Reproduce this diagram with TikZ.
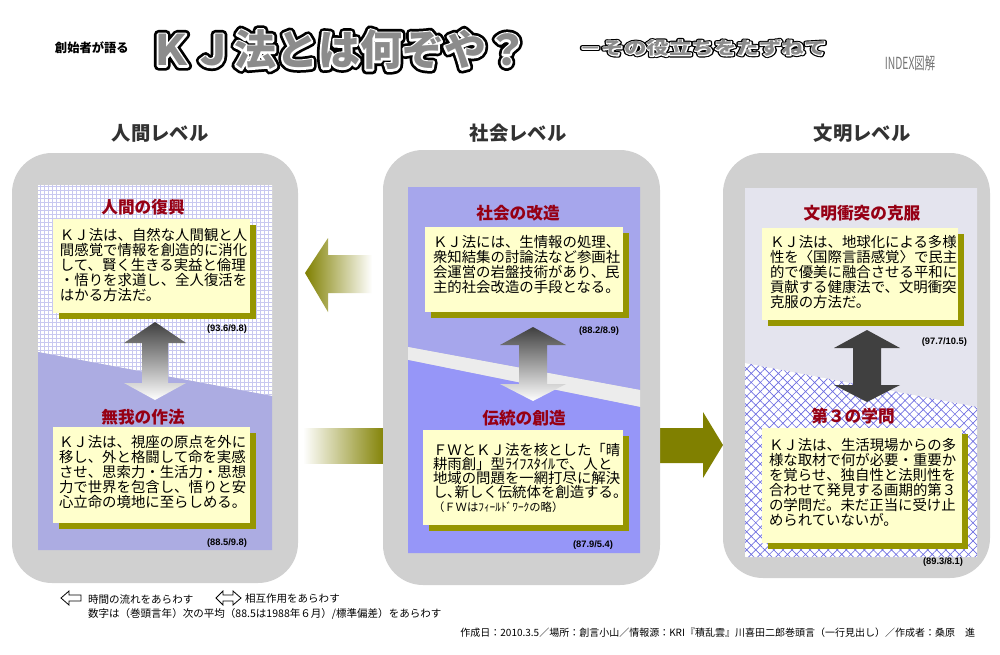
\documentclass[tikz,border=0pt]{standalone}
\usepackage{fontspec}
\setmainfont{Noto Sans CJK JP}
\newfontfamily\lsans{Liberation Sans}
\newfontfamily\outA[FakeBold=22, BoldFeatures={FakeBold=22}]{Noto Sans CJK JP}
\newfontfamily\outB[FakeBold=9, BoldFeatures={FakeBold=9}]{Noto Sans CJK JP}
\usetikzlibrary{patterns.meta,shadows}
\definecolor{panelgray}{RGB}{208,208,208}
\definecolor{lavA}{RGB}{172,172,226}
\definecolor{lavB}{RGB}{166,166,236}
\definecolor{lavC}{RGB}{150,150,248}
\definecolor{gridlav}{RGB}{200,200,240}
\definecolor{boxy}{RGB}{255,255,204}
\definecolor{shad}{RGB}{150,150,0}
\definecolor{oliv}{RGB}{128,128,0}
\definecolor{ttl}{RGB}{150,0,20}
\definecolor{hdr}{RGB}{50,50,50}
\definecolor{xhatch}{RGB}{110,110,225}
\definecolor{ptop}{RGB}{228,228,238}
\definecolor{band}{RGB}{236,236,236}
\newcommand\ttlsize{\fontsize{31.5pt}{33pt}\selectfont\bfseries}
\newcommand\subsize{\fontsize{13pt}{14pt}\selectfont\bfseries}
\tikzset{
 every node/.style={inner sep=0pt, outer sep=0pt},
 panel/.style={fill=panelgray, rounded corners=30pt},
 ybox/.style={fill=boxy, anchor=north west, drop shadow={shadow xshift=4.5pt, shadow yshift=-4.5pt, fill=shad, opacity=1}},
 body/.style={anchor=north west, align=left, font=\fontsize{10.8pt}{11.25pt}\selectfont},
 ttlstyle/.style={text=ttl, font=\fontsize{12.5pt}{14pt}\selectfont\bfseries},
 hdrstyle/.style={text=hdr, font=\fontsize{14.5pt}{16pt}\selectfont\bfseries},
 num/.style={anchor=east, font=\lsans\fontsize{7pt}{8pt}\selectfont\bfseries},
 legtext/.style={anchor=west, font=\fontsize{7.9pt}{9pt}\selectfont},
 gridfill/.style={pattern={Hatch[angle=0,distance=3pt,line width=0.35pt]}, pattern color=gridlav},
 hatchfill/.style={pattern={Hatch[angle=45,distance=4.8pt,line width=0.5pt]}, pattern color=xhatch},
 legarrow/.style={draw=black, fill=white, line width=0.6pt},
 outline/.style={line join=round, line cap=round},
}
\begin{document}
\begin{tikzpicture}[x=0.75pt,y=-0.75pt]
\useasboundingbox (0,0) rectangle (1000,654);
\fill[white] (0,0) rectangle (1000,654);

% ---- title ----
\node[anchor=west, font=\fontsize{9.2pt}{10pt}\selectfont\bfseries] (pre) at (55,48) {創始者が語る};
\coordinate (T) at (339,50);
\node[outline, font=\outA\ttlsize\special{pdf:literal direct 1 j 1 J}, text=black] (titleA) at (T) {ＫＪ法とは何ぞや？};
\node[outline, font=\outB\ttlsize\special{pdf:literal direct 1 j 1 J}, text=white] (titleB) at (T) {ＫＪ法とは何ぞや？};
\node[font=\ttlsize, text=black!45] (title) at (T) {ＫＪ法とは何ぞや？};
\coordinate (S) at (703,48);
\node[outline, font=\outA\subsize\special{pdf:literal direct 1 j 1 J}, text=black, xscale=1.3] (subA) at (S) {－その役立ちをたずねて};
\node[outline, font=\outB\subsize\special{pdf:literal direct 1 j 1 J}, text=white, xscale=1.3] (subB) at (S) {－その役立ちをたずねて};
\node[font=\subsize, text=black!45, xscale=1.3] (subtitle) at (S) {－その役立ちをたずねて};
\node[text=black!55, font=\fontsize{12.5pt}{13pt}\selectfont, xscale=0.62] (idx) at (910,63) {INDEX図解};

% ---- headers ----
\node[hdrstyle] (h1) at (160,133) {人間レベル};
\node[hdrstyle] (h2) at (518,133) {社会レベル};
\node[hdrstyle] (h3) at (862,133) {文明レベル};

% ---- olive arrows ----
\shade[left color=oliv, middle color=oliv!70, right color=white] (305,273) -- (328,238) -- (328,255) -- (372,255) -- (372,293) -- (328,293) -- (328,312) -- cycle;
\shade[left color=white, right color=oliv] (303,428) rectangle (386,463);
\fill[oliv] (386,428) -- (703,428) -- (703,412) -- (723,445) -- (703,478) -- (703,463) -- (386,463) -- cycle;

% ---- panels ----
\fill[panel] (12,153) rectangle (298,583);
\fill[panel] (383,150) rectangle (660,585);
\fill[panel] (723,153) rectangle (990,578);

% left inner
\fill[white] (38,185) -- (272,185) -- (272,396) -- (38,352) -- cycle;
\fill[gridfill] (38,185) -- (272,185) -- (272,396) -- (38,352) -- cycle;
\fill[lavA] (38,352) -- (272,396) -- (272,550) -- (38,550) -- cycle;
% center inner
\fill[lavB] (408,187) -- (640,187) -- (640,390) -- (408,347) -- cycle;
\fill[band] (408,347) -- (640,390) -- (640,407) -- (408,360) -- cycle;
\fill[lavC] (408,360) -- (640,407) -- (640,553) -- (408,553) -- cycle;
% right inner
\fill[ptop] (745,188) -- (977,188) -- (977,407) -- (745,363) -- cycle;
\fill[white] (745,363) -- (977,407) -- (977,557) -- (745,557) -- cycle;
\fill[hatchfill] (745,363) -- (977,407) -- (977,557) -- (745,557) -- cycle;

% ---- vertical arrows ----
\shade[top color=black!75, bottom color=white] (155,322) -- (186,343) -- (168,343) -- (168,383) -- (186,383) -- (155,400) -- (124,383) -- (142,383) -- (142,343) -- (124,343) -- cycle;
\shade[top color=black!75, bottom color=white] (533,327) -- (566,345) -- (547,345) -- (547,384) -- (566,384) -- (533,401) -- (500,384) -- (519,384) -- (519,345) -- (500,345) -- cycle;
\shade[top color=black!75, middle color=black!35, bottom color=black!75] (867,330) -- (900,348) -- (881,348) -- (881,385) -- (900,385) -- (867,402) -- (834,385) -- (853,385) -- (853,348) -- (834,348) -- cycle;

% ---- titles ----
\node[ttlstyle] (k1) at (143,207) {人間の復興};
\node[ttlstyle] (k2) at (143,417) {無我の作法};
\node[ttlstyle] (k3) at (518,213) {社会の改造};
\node[ttlstyle] (k4) at (524,418) {伝統の創造};
\node[ttlstyle] (k5) at (862,213) {文明衝突の克服};
\node[ttlstyle] (k6) at (853,416) {第３の学問};

% ---- boxes ----
\node[ybox, minimum width=147.75pt, minimum height=70.5pt] (b1) at (53,219) {};
\node[ybox, minimum width=147.75pt, minimum height=72pt] (b2) at (53,427) {};
\node[ybox, minimum width=148.5pt, minimum height=63.75pt] (b3) at (425,227) {};
\node[ybox, minimum width=150pt, minimum height=71.25pt] (b4) at (423,430) {};
\node[ybox, minimum width=147pt, minimum height=69pt] (b5) at (762,228) {};
\node[ybox, minimum width=150pt, minimum height=86.25pt] (b6) at (762,428) {};

\node[body] (t1) at (60,228) {ＫＪ法は、自然な人間観と人\\間感覚で情報を創造的に消化\\して、賢く生きる実益と倫理\\・悟りを求道し、全人復活を\\はかる方法だ。};
\node[body] (t2) at (59,435) {ＫＪ法は、視座の原点を外に\\移し、外と格闘して命を実感\\させ、思索力・生活力・思想\\力で世界を包含し、悟りと安\\心立命の境地に至らしめる。};
\node[body] (t3) at (433,235) {ＫＪ法には、生情報の処理、\\衆知結集の討論法など参画社\\会運営の岩盤技術があり、民\\主的社会改造の手段となる。};
\node[body, font=\fontsize{10.8pt}{10.5pt}\selectfont] (t4) at (433,443) {ＦＷとＫＪ法を核とした「晴\\耕雨創」型ﾗｲﾌｽﾀｲﾙで、人と\\地域の問題を一網打尽に解決\\し､新しく伝統体を創造する。\\{\fontsize{8.5pt}{10pt}\selectfont（ＦＷはﾌｨｰﾙﾄﾞﾜｰｸの略）}};
\node[body] (t5) at (770,235) {ＫＪ法は、地球化による多様\\性を〈国際言語感覚〉で民主\\的で優美に融合させる平和に\\貢献する健康法で、文明衝突\\克服の方法だ。};
\node[body] (t6) at (769,438) {ＫＪ法は、生活現場からの多\\様な取材で何が必要・重要か\\を覚らせ、独自性と法則性を\\合わせて発見する画期的第３\\の学問だ。未だ正当に受け止\\められていないが。};

% ---- numbers ----
\node[num] (n1) at (247,329) {(93.6/9.8)};
\node[num] (n2) at (247,543) {(88.5/9.8)};
\node[num] (n3) at (619,331) {(88.2/8.9)};
\node[num] (n4) at (613,545) {(87.9/5.4)};
\node[num] (n5) at (967,342) {(97.7/10.5)};
\node[num] (n6) at (963,562) {(89.3/8.1)};

% ---- legend ----
\draw[legarrow] (61,598) -- (69,591) -- (69,595) -- (81,595) -- (81,601) -- (69,601) -- (69,605) -- cycle;
\node[legtext] (l1) at (88,599) {時間の流れをあらわす};
\draw[legarrow] (216,598) -- (223,591) -- (223,595) -- (233,595) -- (233,591) -- (241,598) -- (233,605) -- (233,601) -- (223,601) -- (223,605) -- cycle;
\node[legtext] (l2) at (245,599) {相互作用をあらわす};
\node[legtext] (l3) at (88,614) {数字は（巻頭言年）次の平均（88.5は1988年６月）/標準偏差）をあらわす};
\node[anchor=east, font=\fontsize{7.5pt}{9pt}\selectfont] (cred) at (975,633) {作成日：2010.3.5／場所：創言小山／情報源：KRI『積乱雲』川喜田二郎巻頭言（一行見出し）／作成者：桑原　進};
\end{tikzpicture}
\end{document}
